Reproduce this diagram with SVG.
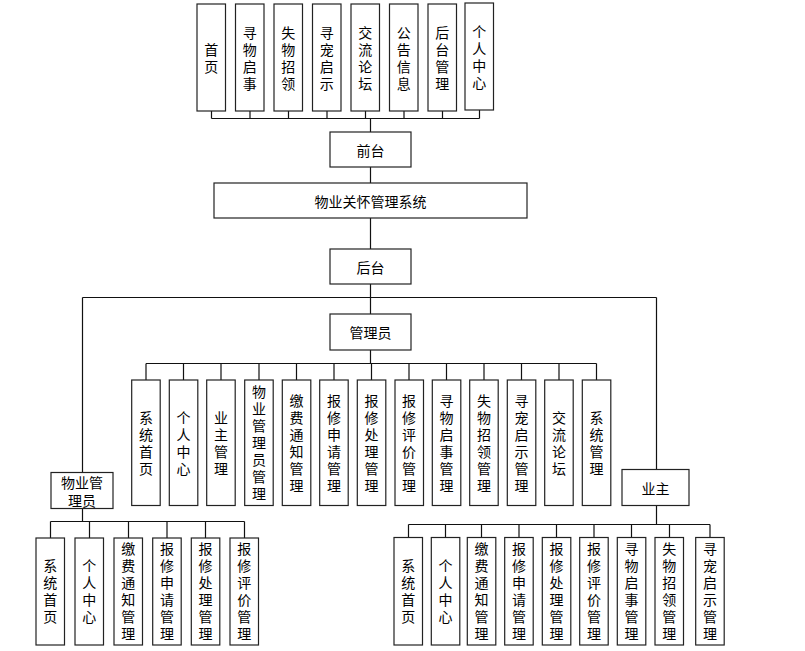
<svg xmlns="http://www.w3.org/2000/svg" width="805" height="651" viewBox="0 0 805 651">
<style>
rect{fill:#fff;stroke:#222;stroke-width:1.2}
text{font-family:"Noto Sans CJK SC","Liberation Sans",sans-serif;font-size:14px;fill:#000;text-anchor:middle;dominant-baseline:central}
text.v{writing-mode:vertical-rl;letter-spacing:3px}
.c path{fill:none;stroke:#111;stroke-width:1.2}
</style>
<rect x="0" y="0" width="805" height="651" style="stroke:none;fill:#fff"/>
<g class="c" id="connectors">
<path d="M211.5 111V118.5M250 111V118.5M288.5 111V118.5M327 111V118.5M365.5 111V118.5M404 111V118.5M442.5 111V118.5M479.5 110V118.5M211.5 118.5H479.5M370.5 118.5V132"/>
<path d="M370.5 167V183M370.5 218V249M370.5 284V314"/>
<path d="M82.5 297.5H656.5M82.5 297.5V472.5M656.5 297.5V469.5"/>
<path d="M370.5 350V363.5M146 363.5H596.5M146 363.5V380M183.5 363.5V380M221 363.5V380M259 363.5V380M296.5 363.5V380M334 363.5V380M371.5 363.5V380M409 363.5V380M446.5 363.5V380M484 363.5V380M521.5 363.5V380M559 363.5V380M596.5 363.5V380"/>
<path d="M82.5 508.5V521.5M50.5 521.5H244.5M50.5 521.5V538M89.5 521.5V538M128.5 521.5V538M167 521.5V538M205.5 521.5V538M244.5 521.5V538"/>
<path d="M656.5 505.5V524.5M408.5 524.5H710M408.5 524.5V537.5M445.5 524.5V537.5M481.5 524.5V537.5M519 524.5V537.5M556.5 524.5V537.5M594 524.5V537.5M631.5 524.5V537.5M669.5 524.5V537.5M710 524.5V537.5"/>
</g>
<g id="t1"><rect x="197" y="4" width="28.5" height="107"/><text class="v" x="211.25" y="60">首页</text></g>
<g id="t2"><rect x="235.5" y="4" width="28.5" height="107"/><text class="v" x="249.75" y="60">寻物启事</text></g>
<g id="t3"><rect x="274" y="4" width="28.5" height="107"/><text class="v" x="288.25" y="60">失物招领</text></g>
<g id="t4"><rect x="312.5" y="4" width="28.5" height="107"/><text class="v" x="326.75" y="60">寻宠启示</text></g>
<g id="t5"><rect x="351" y="4" width="28.5" height="107"/><text class="v" x="365.25" y="60">交流论坛</text></g>
<g id="t6"><rect x="389.5" y="4" width="28.5" height="107"/><text class="v" x="403.75" y="60">公告信息</text></g>
<g id="t7"><rect x="428" y="4" width="28.5" height="107"/><text class="v" x="442.25" y="60">后台管理</text></g>
<g id="t8"><rect x="465" y="3" width="28.5" height="107"/><text class="v" x="479.25" y="59">个人中心</text></g>
<g id="qiantai"><rect x="330" y="132" width="81" height="35"/><text x="370.5" y="150">前台</text></g>
<g id="system"><rect x="214" y="183" width="313" height="35"/><text x="370.5" y="200.5">物业关怀管理系统</text></g>
<g id="houtai"><rect x="330" y="249" width="81" height="35"/><text x="370.5" y="266.5">后台</text></g>
<g id="admin"><rect x="330" y="314" width="81" height="36"/><text x="370.5" y="332">管理员</text></g>
<g id="a1"><rect x="131.7" y="380" width="28.5" height="125.5"/><text class="v" x="146" y="444.5">系统首页</text></g>
<g id="a2"><rect x="169.3" y="380" width="28.5" height="125.5"/><text class="v" x="183.5" y="444.5">个人中心</text></g>
<g id="a3"><rect x="206.7" y="380" width="28.5" height="125.5"/><text class="v" x="221" y="444.5">业主管理</text></g>
<g id="a4"><rect x="244.7" y="380" width="28.5" height="125.5"/><text class="v" x="259" y="444.5">物业管理员管理</text></g>
<g id="a5"><rect x="282.3" y="380" width="28.5" height="125.5"/><text class="v" x="296.5" y="444.5">缴费通知管理</text></g>
<g id="a6"><rect x="319.7" y="380" width="28.5" height="125.5"/><text class="v" x="334" y="444.5">报修申请管理</text></g>
<g id="a7"><rect x="357.3" y="380" width="28.5" height="125.5"/><text class="v" x="371.5" y="444.5">报修处理管理</text></g>
<g id="a8"><rect x="395" y="380" width="28.5" height="125.5"/><text class="v" x="409" y="444.5">报修评价管理</text></g>
<g id="a9"><rect x="432.3" y="380" width="28.5" height="125.5"/><text class="v" x="446.5" y="444.5">寻物启事管理</text></g>
<g id="a10"><rect x="469.7" y="380" width="28.5" height="125.5"/><text class="v" x="484" y="444.5">失物招领管理</text></g>
<g id="a11"><rect x="507.3" y="380" width="28.5" height="125.5"/><text class="v" x="521.5" y="444.5">寻宠启示管理</text></g>
<g id="a12"><rect x="544.7" y="380" width="28.5" height="125.5"/><text class="v" x="559" y="444.5">交流论坛</text></g>
<g id="a13"><rect x="582.3" y="380" width="28.5" height="125.5"/><text class="v" x="596.5" y="444.5">系统管理</text></g>
<g id="wuye"><rect x="51" y="472.5" width="62" height="36"/><text x="82" y="481.5">物业管</text><text x="82" y="500">理员</text></g>
<g id="yezhu"><rect x="622" y="469.5" width="67" height="36"/><text x="655.5" y="487.5">业主</text></g>
<g id="w1"><rect x="36" y="538" width="28.5" height="107"/><text class="v" x="50.25" y="593">系统首页</text></g>
<g id="w2"><rect x="75" y="538" width="28.5" height="107"/><text class="v" x="89.25" y="593">个人中心</text></g>
<g id="w3"><rect x="114" y="538" width="28.5" height="107"/><text class="v" x="128.25" y="593">缴费通知管理</text></g>
<g id="w4"><rect x="152.7" y="538" width="28.5" height="107"/><text class="v" x="167" y="593">报修申请管理</text></g>
<g id="w5"><rect x="191.3" y="538" width="28.5" height="107"/><text class="v" x="205.5" y="593">报修处理管理</text></g>
<g id="w6"><rect x="230" y="538" width="28.5" height="107"/><text class="v" x="244.25" y="593">报修评价管理</text></g>
<g id="y1"><rect x="394" y="537.5" width="28.5" height="107.5"/><text class="v" x="408.25" y="593">系统首页</text></g>
<g id="y2"><rect x="431.3" y="537.5" width="28.5" height="107.5"/><text class="v" x="445.5" y="593">个人中心</text></g>
<g id="y3"><rect x="467.3" y="537.5" width="28.5" height="107.5"/><text class="v" x="481.5" y="593">缴费通知管理</text></g>
<g id="y4"><rect x="504.7" y="537.5" width="28.5" height="107.5"/><text class="v" x="519" y="593">报修申请管理</text></g>
<g id="y5"><rect x="542.3" y="537.5" width="28.5" height="107.5"/><text class="v" x="556.5" y="593">报修处理管理</text></g>
<g id="y6"><rect x="579.7" y="537.5" width="28.5" height="107.5"/><text class="v" x="594" y="593">报修评价管理</text></g>
<g id="y7"><rect x="617.3" y="537.5" width="28.5" height="107.5"/><text class="v" x="631.5" y="593">寻物启事管理</text></g>
<g id="y8"><rect x="655" y="537.5" width="28.5" height="107.5"/><text class="v" x="669.25" y="593">失物招领管理</text></g>
<g id="y9"><rect x="695.7" y="537.5" width="28.5" height="107.5"/><text class="v" x="710" y="593">寻宠启示管理</text></g>
</svg>
